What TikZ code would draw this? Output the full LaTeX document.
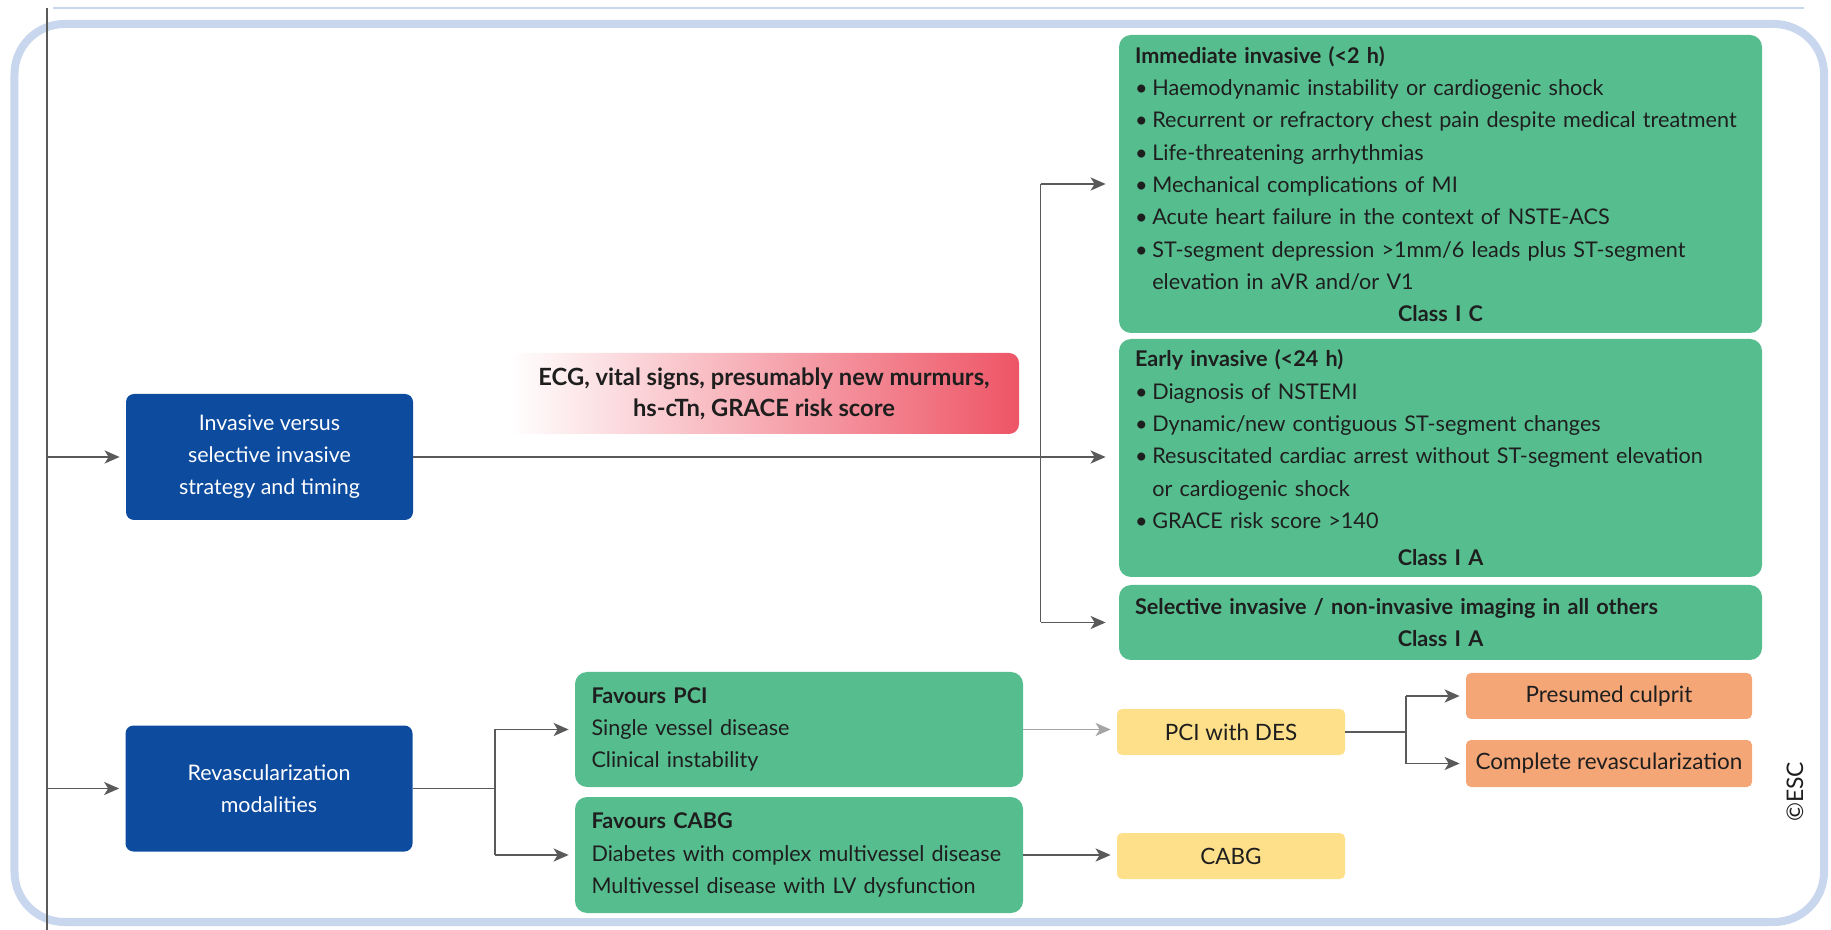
\documentclass[tikz,border=0pt]{standalone}
\usepackage{fontspec}
\setmainfont{Lato}
\usetikzlibrary{arrows.meta,positioning,calc}
\definecolor{GLBlue}{HTML}{0D4B9F}
\definecolor{GLGreen}{HTML}{56BD8F}
\definecolor{GLYellow}{HTML}{FEE08B}
\definecolor{GLOrange}{HTML}{F5A677}
\definecolor{GLRed}{HTML}{EE5566}
\definecolor{GLInk}{HTML}{1E1E1E}
\definecolor{GLLine}{HTML}{5A5A5A}
\definecolor{GLLineSoft}{HTML}{A5A5A5}
\definecolor{GLFrame}{HTML}{C9D7EE}
\tikzset{
  flow/.style={-{Stealth[length=3.0mm,width=2.6mm,inset=0.8mm]},GLLine,line width=1.1pt,shorten >=1.2mm},
  flowwide/.style={flow,shorten >=2.6mm},
  flowsoft/.style={flow,GLLineSoft},
  link/.style={GLLine,line width=1.1pt},
  txt/.style={font=\fontsize{12.3}{18.4}\selectfont},
  chiptxt/.style={font=\fontsize{12.8}{15}\selectfont},
  bluebox/.style={font=\fontsize{12.2}{18.2}\selectfont,fill=GLBlue,rounded corners=1.6mm,
                  text=white,align=center,minimum width=5.74cm,minimum height=2.52cm,inner sep=0pt},
  greencard/.style={txt,fill=GLGreen,rounded corners=2.4mm,text=GLInk,align=left,
                    inner xsep=3.2mm,inner ysep=0pt,text width=12.22cm},
  favcard/.style={greencard,inner xsep=3.3mm,text width=8.3cm},
  yellowchip/.style={chiptxt,fill=GLYellow,rounded corners=1mm,text=GLInk,
                     minimum width=4.56cm,minimum height=0.92cm,inner sep=0pt},
  orangechip/.style={yellowchip,fill=GLOrange,minimum width=5.72cm},
  cue/.style={font=\fontsize{13.5}{17.5}\selectfont\bfseries,left color=white,right color=GLRed,
              rounded corners=2mm,text=GLInk,align=center,
              minimum width=10.2cm,minimum height=1.62cm,inner sep=0pt},
}
\newcommand{\bul}{\textbullet\hspace{0.22em}}
\newcommand{\bulgap}{\phantom{\textbullet\hspace{0.22em}}}
\newcommand{\classline}[1]{\makebox[\linewidth]{\bfseries #1}}

\begin{document}
\begin{tikzpicture}[x=1cm,y=-1cm]
  \useasboundingbox (0,0) rectangle (36.62,18.6);
  % frame and spine
  \draw[GLFrame,line width=0.16cm,rounded corners=1cm] (0.29,0.48) rectangle (36.48,18.44);
  \draw[GLFrame,line width=0.9pt] (1.06,0.16) -- (36.08,0.16);
  \coordinate (spinetop) at (0.94,0.16);
  \coordinate (spinebot) at (0.94,18.6);
  \draw[GLLine,line width=0.9pt] (spinetop) -- (spinebot);

  % invasive strategy and timing
  \node[bluebox] (inv) at (5.39,9.14) {Invasive versus\\selective invasive\\strategy and timing};
  \node[cue] (cue) at (15.28,7.87) {ECG, vital signs, presumably new murmurs,\\hs-cTn, GRACE risk score};
  \node[greencard,minimum height=5.96cm] (imm) at (28.81,3.68) {%
    {\bfseries Immediate invasive (<2 h)}\\
    \bul Haemodynamic instability or cardiogenic shock\\
    \bul Recurrent or refractory chest pain despite medical treatment\\
    \bul Life-threatening arrhythmias\\
    \bul Mechanical complications of MI\\
    \bul Acute heart failure in the context of NSTE-ACS\\
    \bul ST-segment depression >1mm/6 leads plus ST-segment\\
    \bulgap elevation in aVR and/or V1\\
    \classline{Class I C}};
  \node[greencard,minimum height=4.76cm] (early) at (28.81,9.16) {%
    {\bfseries Early invasive (<24 h)}\\
    \bul Diagnosis of NSTEMI\\
    \bul Dynamic/new contiguous ST-segment changes\\
    \bul Resuscitated cardiac arrest without ST-segment elevation\\
    \bulgap or cardiogenic shock\\
    \bul GRACE risk score >140\\[1mm]
    \classline{Class I A}};
  \node[greencard,minimum height=1.5cm] (sel) at (28.81,12.45) {%
    {\bfseries Selective invasive / non-invasive imaging in all others}\\
    \classline{Class I A}};

  \draw[flow] (inv.west -| spinetop) -- (inv.west);
  \coordinate (invfork) at (20.81,9.14);
  \draw[flowwide] (inv.east) -- (inv.east -| early.west);
  \draw[link] (invfork |- imm.west) -- (invfork |- sel.west);
  \draw[flowwide] (invfork |- imm.west) -- (imm.west);
  \draw[flowwide] (invfork |- sel.west) -- (sel.west);

  % revascularization modalities
  \node[bluebox] (rev) at (5.38,15.77) {Revascularization\\modalities};
  \node[favcard,minimum height=2.3cm] (fpci) at (15.98,14.59) {%
    {\bfseries Favours PCI}\\
    Single vessel disease\\
    Clinical instability};
  \node[favcard,minimum height=2.32cm] (fcabg) at (15.98,17.10) {%
    {\bfseries Favours CABG}\\
    Diabetes with complex multivessel disease\\
    Multivessel disease with LV dysfunction};
  \node[yellowchip] (pcides) at (24.62,14.64) {PCI with DES};
  \node[yellowchip] (cabg) at (24.62,17.12) {CABG};
  \node[orangechip] (culprit) at (32.18,13.92) {Presumed culprit};
  \node[orangechip,minimum height=0.94cm] (complete) at (32.18,15.27) {Complete revascularization};

  \draw[flow] (rev.west -| spinetop) -- (rev.west);
  \coordinate (revfork) at (9.9,15.77);
  \draw[link] (rev.east) -- (revfork);
  \draw[link] (revfork |- fpci.west) -- (revfork |- fcabg.west);
  \draw[flow] (revfork |- fpci.west) -- (fpci.west);
  \draw[flow] (revfork |- fcabg.west) -- (fcabg.west);
  \draw[flowsoft] (fpci.east) -- (fpci.east -| pcides.west);
  \draw[flow] (fcabg.east) -- (fcabg.east -| cabg.west);
  \coordinate (pcifork) at (28.12,14.64);
  \draw[link] (pcides.east) -- (pcifork);
  \draw[link] (pcifork |- culprit.west) -- (pcifork |- complete.west);
  \draw[flow] (pcifork |- culprit.west) -- (culprit.west);
  \draw[flow] (pcifork |- complete.west) -- (complete.west);

  \node[rotate=90,font=\fontsize{13}{15}\selectfont,text=GLInk] (esc) at (35.9,15.84) {\copyright ESC};
\end{tikzpicture}
\end{document}
